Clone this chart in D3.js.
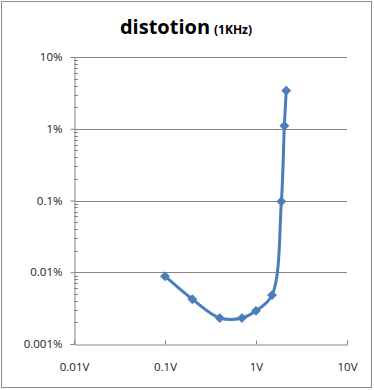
<!DOCTYPE html>
<html>
<head>
<meta charset="utf-8">
<script src="https://cdn.jsdelivr.net/npm/d3@7"></script>
<style>
  body { margin: 0; background: #fff; }
  text { font-family: "Open Sans", "DejaVu Sans", sans-serif; }
</style>
</head>
<body>
<div id="chart"></div>
<script>
// input level (V) and distortion (%)
const voltage = [0.1, 0.2, 0.4, 0.7, 1.0, 1.5, 1.9, 2.05, 2.15];
const distortion = [0.0088, 0.0042, 0.0023, 0.0023, 0.0029, 0.0048, 0.097, 1.1, 3.4];
const xTicks = [0.01, 0.1, 1, 10];
const xTickLabels = ["0.01V", "0.1V", "1V", "10V"];
const yTicks = [0.001, 0.01, 0.1, 1, 10];
const yTickLabels = ["0.001%", "0.01%", "0.1%", "1%", "10%"];

const W = 374, H = 390;
const margin = { top: 57, right: 27, bottom: 46, left: 74 };

const svg = d3.select("#chart").append("svg")
    .attr("width", W)
    .attr("height", H);

// outer chart border
svg.append("rect")
    .attr("x", 1.5).attr("y", 1.5)
    .attr("width", W - 4).attr("height", H - 4)
    .attr("fill", "#fff")
    .attr("stroke", "#8c8c8c");

const x = d3.scaleLog().domain([0.01, 10]).range([margin.left, W - margin.right]);
const y = d3.scaleLog().domain([0.001, 10]).range([H - margin.bottom, margin.top]);

// title
const title = svg.append("text")
    .attr("x", 186).attr("y", 34)
    .attr("text-anchor", "middle")
    .attr("font-weight", "bold");
title.append("tspan").attr("font-size", 20).text("distotion");
title.append("tspan").attr("font-size", 12).attr("dx", 4).text("(1KHz)");

// horizontal gridlines
svg.append("g")
    .selectAll("line")
    .data(yTicks.slice(1))
    .join("line")
    .attr("x1", x(0.01)).attr("x2", x(10))
    .attr("y1", d => Math.round(y(d)) + 0.5)
    .attr("y2", d => Math.round(y(d)) + 0.5)
    .attr("stroke", "#868686");

// y axis with minor ticks
const minorY = [];
yTicks.slice(0, -1).forEach(t => {
    for (let k = 2; k <= 9; k++) minorY.push(t * k);
});
svg.append("g")
    .selectAll("line")
    .data(minorY)
    .join("line")
    .attr("x1", x(0.01)).attr("x2", x(0.01) + 4)
    .attr("y1", d => Math.round(y(d)) + 0.5)
    .attr("y2", d => Math.round(y(d)) + 0.5)
    .attr("stroke", "#868686");

const yAxis = svg.append("g")
    .attr("transform", `translate(${Math.round(x(0.01)) + 0.5},0)`)
    .call(d3.axisLeft(y).tickValues(yTicks)
        .tickFormat((d, i) => yTickLabels[i])
        .tickSize(4).tickPadding(8));
yAxis.select(".domain").attr("stroke", "#868686");
yAxis.selectAll(".tick line").attr("stroke", "#868686");
yAxis.selectAll(".tick text")
    .attr("fill", "#1a1a1a")
    .attr("font-size", 11.5)
    .style("font-family", "'Open Sans', sans-serif");

// x axis
const xAxis = svg.append("g")
    .attr("transform", `translate(0,${Math.round(y(0.001)) + 0.5})`)
    .call(d3.axisBottom(x).tickValues(xTicks)
        .tickFormat((d, i) => xTickLabels[i])
        .tickSize(-4).tickPadding(18));
xAxis.select(".domain").attr("stroke", "#868686");
xAxis.selectAll(".tick line").attr("stroke", "#868686");
xAxis.selectAll(".tick text")
    .attr("fill", "#1a1a1a")
    .attr("font-size", 11.5)
    .style("font-family", "'Open Sans', sans-serif");

// data
const pts = voltage.map((v, i) => [v, distortion[i]]);
const line = d3.line()
    .x(d => x(d[0]))
    .y(d => y(d[1]))
    .curve(d3.curveCatmullRom.alpha(0.5));

svg.append("path")
    .datum(pts)
    .attr("d", line)
    .attr("fill", "none")
    .attr("stroke", "#4a7ebb")
    .attr("stroke-width", 3)
    .attr("stroke-linejoin", "round");

svg.append("g")
    .selectAll("path")
    .data(pts)
    .join("path")
    .attr("transform", d => `translate(${x(d[0])},${y(d[1])})`)
    .attr("d", d3.symbol(d3.symbolDiamond2, 50))
    .attr("fill", "#4a7ebb")
    .attr("stroke", "#4a7ebb")
    .attr("stroke-width", 1);
</script>
</body>
</html>
